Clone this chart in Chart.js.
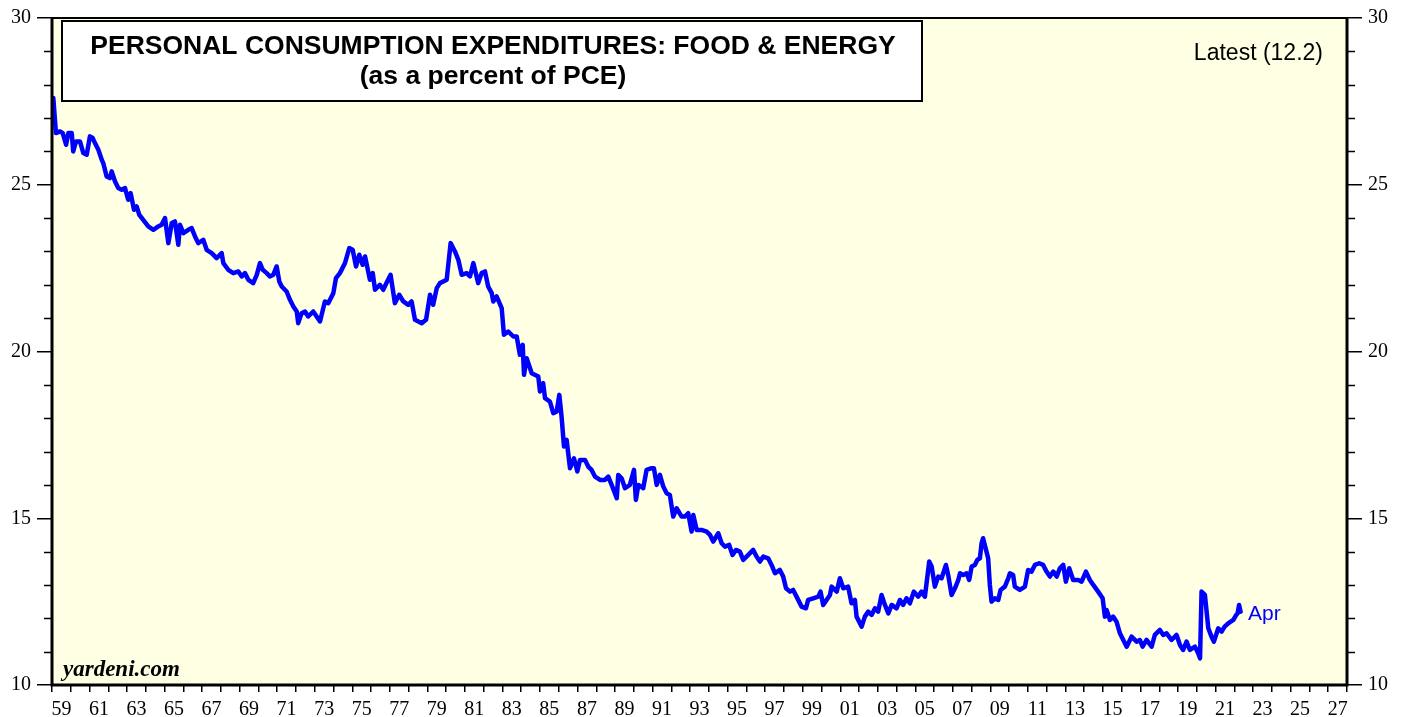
<!DOCTYPE html>
<html>
<head>
<meta charset="utf-8">
<title>Personal Consumption Expenditures: Food &amp; Energy</title>
<script src="https://cdn.jsdelivr.net/npm/chart.js@4.4.1/dist/chart.umd.min.js"></script>
<style>
  html, body { margin: 0; padding: 0; background: #fff; }
  #wrap { width: 1408px; height: 717px; }
</style>
</head>
<body>
<div id="wrap"><canvas id="chart"></canvas></div>
<script>
// food & energy as a percent of PCE (decimal years)
const years = [
  1959.07, 1959.21, 1959.43, 1959.57, 1959.75, 1959.87, 1960.05, 1960.13, 1960.28, 1960.49, 1960.67, 1960.85,
  1961.02, 1961.17, 1961.29, 1961.47, 1961.65, 1961.73, 1961.91, 1962.09, 1962.18, 1962.36, 1962.53, 1962.71, 1962.89,
  1963.06, 1963.19, 1963.37, 1963.51, 1963.65, 1963.86, 1964.13, 1964.40, 1964.66, 1964.84, 1965.02, 1965.20, 1965.38,
  1965.55, 1965.73, 1965.82, 1966.00, 1966.26, 1966.44, 1966.62, 1966.79, 1967.06, 1967.24, 1967.51, 1967.77, 1968.04,
  1968.13, 1968.39, 1968.66, 1968.93, 1969.11, 1969.28, 1969.46, 1969.72, 1969.91, 1970.08, 1970.23, 1970.44, 1970.61,
  1970.79, 1970.97, 1971.11, 1971.24, 1971.50, 1971.68, 1971.86, 1972.04, 1972.12, 1972.30, 1972.48, 1972.65, 1972.92,
  1973.10, 1973.28, 1973.54, 1973.72, 1973.99, 1974.13, 1974.34, 1974.61, 1974.84, 1975.02, 1975.20, 1975.37, 1975.55,
  1975.68, 1975.94, 1976.09, 1976.21, 1976.47, 1976.65, 1976.86, 1977.04, 1977.27, 1977.50, 1977.72, 1977.98, 1978.16,
  1978.34, 1978.70, 1978.93, 1979.14, 1979.31, 1979.50, 1979.67, 1980.03, 1980.24, 1980.47, 1980.65, 1980.83, 1981.09,
  1981.27, 1981.45, 1981.71, 1981.89, 1982.07, 1982.24, 1982.43, 1982.51, 1982.69, 1982.96, 1983.08, 1983.31, 1983.58,
  1983.76, 1983.93, 1984.08, 1984.15, 1984.29, 1984.56, 1984.91, 1985.00, 1985.17, 1985.27, 1985.53, 1985.71, 1985.89,
  1986.03, 1986.15, 1986.28, 1986.42, 1986.60, 1986.81, 1986.99, 1987.13, 1987.40, 1987.57, 1987.75, 1987.93, 1988.20,
  1988.46, 1988.64, 1988.82, 1989.09, 1989.17, 1989.35, 1989.53, 1989.79, 1990.01, 1990.11, 1990.24, 1990.50, 1990.68,
  1990.95, 1991.07, 1991.22, 1991.39, 1991.57, 1991.75, 1991.92, 1992.10, 1992.28, 1992.55, 1992.72, 1992.90, 1993.08,
  1993.17, 1993.35, 1993.61, 1993.88, 1994.06, 1994.23, 1994.50, 1994.68, 1994.86, 1995.08, 1995.26, 1995.44, 1995.65,
  1995.83, 1996.10, 1996.36, 1996.54, 1996.72, 1996.90, 1997.16, 1997.34, 1997.52, 1997.78, 1997.96, 1998.11, 1998.32,
  1998.49, 1998.67, 1998.94, 1999.17, 1999.29, 1999.56, 1999.83, 1999.95, 2000.09, 2000.27, 2000.45, 2000.54, 2000.81,
  2000.98, 2001.16, 2001.42, 2001.60, 2001.78, 2001.87, 2002.14, 2002.31, 2002.49, 2002.67, 2002.85, 2003.02, 2003.20,
  2003.38, 2003.56, 2003.74, 2004.00, 2004.18, 2004.35, 2004.53, 2004.71, 2004.92, 2005.15, 2005.33, 2005.51, 2005.74,
  2005.87, 2006.04, 2006.22, 2006.40, 2006.63, 2006.75, 2006.93, 2007.11, 2007.29, 2007.38, 2007.55, 2007.73, 2007.87,
  2008.00, 2008.17, 2008.30, 2008.44, 2008.53, 2008.61, 2008.79, 2008.88, 2008.97, 2009.06, 2009.24, 2009.42, 2009.54,
  2009.77, 2009.95, 2010.04, 2010.21, 2010.30, 2010.57, 2010.84, 2011.01, 2011.19, 2011.37, 2011.60, 2011.81, 2011.99,
  2012.17, 2012.35, 2012.53, 2012.70, 2012.88, 2013.02, 2013.20, 2013.41, 2013.68, 2013.86, 2014.09, 2014.30, 2014.48,
  2014.74, 2014.98, 2015.10, 2015.19, 2015.37, 2015.54, 2015.72, 2015.90, 2016.08, 2016.26, 2016.52, 2016.79, 2016.96,
  2017.11, 2017.32, 2017.59, 2017.76, 2018.03, 2018.21, 2018.39, 2018.65, 2018.92, 2019.10, 2019.27, 2019.45, 2019.63,
  2019.90, 2020.07, 2020.17, 2020.25, 2020.43, 2020.61, 2020.78, 2020.91, 2021.14, 2021.32, 2021.48, 2021.67, 2021.94,
  2022.10, 2022.17, 2022.25, 2022.33
];
const share = [
  27.6, 26.55, 26.6, 26.55, 26.2, 26.55, 26.55, 26.0, 26.3, 26.3, 25.95, 25.9,
  26.45, 26.4, 26.25, 26.05, 25.75, 25.65, 25.25, 25.2, 25.4, 25.1, 24.9, 24.85, 24.9,
  24.55, 24.75, 24.25, 24.35, 24.1, 23.95, 23.75, 23.65, 23.75, 23.8, 24.0, 23.25, 23.85,
  23.9, 23.2, 23.8, 23.55, 23.65, 23.7, 23.45, 23.25, 23.35, 23.05, 22.95, 22.8, 22.95,
  22.65, 22.45, 22.35, 22.4, 22.25, 22.35, 22.15, 22.05, 22.3, 22.65, 22.45, 22.35, 22.25,
  22.3, 22.55, 22.1, 21.95, 21.8, 21.55, 21.35, 21.2, 20.85, 21.15, 21.2, 21.05, 21.2,
  21.05, 20.9, 21.5, 21.45, 21.75, 22.2, 22.35, 22.65, 23.1, 23.05, 22.55, 22.9, 22.6,
  22.85, 22.15, 22.35, 21.85, 22.0, 21.85, 22.1, 22.3, 21.45, 21.7, 21.5, 21.4, 21.5,
  20.95, 20.85, 20.95, 21.7, 21.4, 21.9, 22.05, 22.15, 23.25, 23.0, 22.75, 22.3, 22.35,
  22.25, 22.65, 22.05, 22.35, 22.4, 21.95, 21.75, 21.5, 21.65, 21.3, 20.5, 20.6, 20.45,
  20.45, 19.9, 20.2, 19.3, 19.8, 19.35, 19.25, 18.8, 19.05, 18.6, 18.5, 18.15, 18.2,
  18.7, 18.05, 17.15, 17.35, 16.5, 16.8, 16.4, 16.75, 16.75, 16.55, 16.45, 16.25, 16.15,
  16.15, 16.25, 16.0, 15.6, 16.3, 16.2, 15.9, 16.0, 16.45, 15.55, 16.0, 15.9, 16.45,
  16.5, 16.5, 16.0, 16.3, 15.95, 15.75, 15.7, 15.05, 15.3, 15.05, 15.05, 15.15, 14.6,
  15.1, 14.65, 14.65, 14.6, 14.5, 14.3, 14.55, 14.25, 14.15, 14.2, 13.9, 14.05, 14.0,
  13.75, 13.9, 14.05, 13.85, 13.7, 13.85, 13.8, 13.6, 13.35, 13.45, 13.25, 12.9, 12.8,
  12.85, 12.65, 12.35, 12.3, 12.55, 12.6, 12.65, 12.8, 12.4, 12.55, 12.7, 12.95, 12.8,
  13.2, 12.9, 12.95, 12.45, 12.55, 12.05, 11.75, 12.05, 12.2, 12.1, 12.3, 12.2, 12.7,
  12.4, 12.15, 12.4, 12.3, 12.55, 12.4, 12.6, 12.45, 12.8, 12.65, 12.8, 12.65, 13.7,
  13.55, 12.95, 13.25, 13.2, 13.6, 13.3, 12.7, 12.9, 13.15, 13.35, 13.3, 13.35, 13.15,
  13.55, 13.6, 13.75, 13.8, 14.25, 14.4, 14.0, 13.8, 13.0, 12.5, 12.6, 12.55, 12.85,
  12.95, 13.2, 13.35, 13.3, 12.95, 12.85, 12.95, 13.45, 13.4, 13.6, 13.65, 13.6, 13.4,
  13.25, 13.4, 13.25, 13.5, 13.6, 13.1, 13.5, 13.15, 13.15, 13.1, 13.4, 13.15, 13.0,
  12.8, 12.6, 12.05, 12.25, 11.95, 12.05, 11.9, 11.55, 11.35, 11.15, 11.45, 11.3, 11.35,
  11.15, 11.35, 11.15, 11.5, 11.65, 11.5, 11.55, 11.35, 11.5, 11.2, 11.05, 11.3, 11.05,
  11.15, 10.95, 10.8, 12.8, 12.7, 11.7, 11.45, 11.3, 11.7, 11.6, 11.75, 11.85, 11.95,
  12.1, 12.15, 12.4, 12.2
];

const yMin = 10, yMax = 30;
const yMajorStep = 5;
const xFirstYear = 1959, xLastYear = 2028;
const titleLines = ['PERSONAL CONSUMPTION EXPENDITURES: FOOD & ENERGY', '(as a percent of PCE)'];
const latestLabel = 'Latest (12.2)';
const endLabel = 'Apr';
const sourceLabel = 'yardeni.com';

const serif = "'Liberation Serif', 'Times New Roman', serif";
const sans = "'Liberation Sans', Arial, sans-serif";

const chartDecor = {
  id: 'chartDecor',
  beforeDraw(chart) {
    const { ctx, chartArea: a } = chart;
    ctx.save();
    ctx.fillStyle = '#ffffe4';
    ctx.fillRect(a.left, a.top, a.right - a.left, a.bottom - a.top);
    ctx.restore();
  },
  afterDatasetsDraw(chart) {
    const { ctx, chartArea: a, scales } = chart;
    ctx.save();

    // minor ticks on both y axes
    ctx.strokeStyle = '#000';
    ctx.lineWidth = 1.5;
    for (let v = yMin; v <= yMax; v++) {
      if (v % yMajorStep === 0) continue;
      const y = Math.round(scales.y.getPixelForValue(v)) + 0.5;
      ctx.beginPath();
      ctx.moveTo(a.left - 8, y); ctx.lineTo(a.left, y);
      ctx.moveTo(a.right, y); ctx.lineTo(a.right + 8, y);
      ctx.stroke();
    }

    // frame
    ctx.lineWidth = 3;
    ctx.beginPath();
    ctx.moveTo(a.left, a.top); ctx.lineTo(a.left, a.bottom);
    ctx.lineTo(a.right, a.bottom); ctx.lineTo(a.right, a.top);
    ctx.stroke();
    ctx.lineWidth = 2;
    ctx.beginPath();
    ctx.moveTo(a.left, a.top); ctx.lineTo(a.right, a.top);
    ctx.stroke();

    // title box
    ctx.fillStyle = '#fff';
    ctx.fillRect(62, 21, 860, 80);
    ctx.lineWidth = 2;
    ctx.strokeRect(62, 21, 860, 80);
    ctx.fillStyle = '#000';
    ctx.textAlign = 'center';
    ctx.textBaseline = 'middle';
    ctx.font = 'bold 26.5px ' + sans;
    ctx.fillText(titleLines[0], 493, 47);
    ctx.fillText(titleLines[1], 493, 77);

    ctx.font = '23px ' + sans;
    ctx.textAlign = 'right';
    ctx.fillText(latestLabel, 1323, 54);

    ctx.fillStyle = '#0000ff';
    ctx.textAlign = 'left';
    ctx.font = '21px ' + sans;
    ctx.fillText(endLabel, 1248, 614);

    ctx.fillStyle = '#000';
    ctx.font = 'bold italic 23px ' + serif;
    ctx.fillText(sourceLabel, 63, 670);

    ctx.restore();
  }
};

const points = years.map((t, i) => ({ x: t, y: share[i] }));

const yAxis = (position, width) => ({
  position: position,
  min: yMin,
  max: yMax,
  ticks: {
    stepSize: yMajorStep,
    padding: 6,
    color: '#000',
    font: { family: serif, size: 20 }
  },
  grid: { drawOnChartArea: false, tickLength: 15, color: '#000', lineWidth: 1.5 },
  border: { display: false },
  afterFit: s => { s.width = width; }
});

new Chart(document.getElementById('chart'), {
  type: 'line',
  data: {
    datasets: [{
      data: points,
      borderColor: '#0000ff',
      borderWidth: 4.5,
      borderJoinStyle: 'round',
      borderCapStyle: 'round',
      pointRadius: 0,
      tension: 0,
      yAxisID: 'y'
    }]
  },
  options: {
    responsive: true,
    maintainAspectRatio: false,
    animation: false,
    layout: { padding: { top: 14 } },
    plugins: { legend: { display: false }, tooltip: { enabled: false } },
    scales: {
      x: {
        type: 'linear',
        min: xFirstYear,
        max: xLastYear,
        afterBuildTicks: s => {
          s.ticks = [];
          for (let yr = xFirstYear; yr <= xLastYear; yr++) s.ticks.push({ value: yr });
        },
        ticks: {
          autoSkip: false,
          maxRotation: 0,
          labelOffset: 9.4,
          padding: 6,
          color: '#000',
          font: { family: serif, size: 20 },
          callback: v => (v % 2 === 1 && v < xLastYear) ? String(v % 100).padStart(2, '0') : ''
        },
        grid: { drawOnChartArea: false, tickLength: 7, color: '#000', lineWidth: 1.5 },
        border: { display: false },
        afterFit: s => { s.height = 32; }
      },
      y: yAxis('left', 52),
      y2: yAxis('right', 61)
    }
  },
  plugins: [chartDecor]
});
</script>
</body>
</html>
